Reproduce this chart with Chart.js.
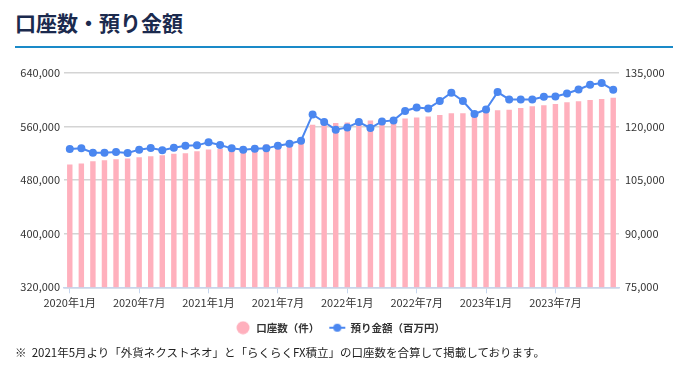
<!DOCTYPE html>
<html lang="ja">
<head>
<meta charset="utf-8">
<script src="https://cdn.jsdelivr.net/npm/chart.js@4/dist/chart.umd.min.js"></script>
<style>
  html, body { margin: 0; padding: 0; background: #fff; }
  body { width: 680px; height: 367px; position: relative; overflow: hidden;
         font-family: 'Noto Sans CJK JP', 'Noto Sans', sans-serif; }
  #title { position: absolute; left: 15px; top: 7px; font-size: 21px; font-weight: bold;
           color: #1b2a4e; letter-spacing: 0px; line-height: 30px; }
  #rule { position: absolute; left: 15px; top: 46px; width: 658px; height: 2px; background: #1a8ac8; }
  #wrap { position: absolute; left: 0; top: 55px; width: 680px; height: 290px; }
  #note { position: absolute; left: 15px; top: 343px; font-size: 11.5px; color: #222; line-height: 18px; white-space: nowrap; }
</style>
</head>
<body>
<div id="title">口座数・預り金額</div>
<div id="rule"></div>
<div id="wrap"><canvas id="c"></canvas></div>
<div id="note">※&nbsp;&nbsp;2021年5月より「外貨ネクストネオ」と「らくらくFX積立」の口座数を合算して掲載しております。</div>
<script>
const categories = [
  "2020年1月","2020年2月","2020年3月","2020年4月","2020年5月","2020年6月",
  "2020年7月","2020年8月","2020年9月","2020年10月","2020年11月","2020年12月",
  "2021年1月","2021年2月","2021年3月","2021年4月","2021年5月","2021年6月",
  "2021年7月","2021年8月","2021年9月","2021年10月","2021年11月","2021年12月",
  "2022年1月","2022年2月","2022年3月","2022年4月","2022年5月","2022年6月",
  "2022年7月","2022年8月","2022年9月","2022年10月","2022年11月","2022年12月",
  "2023年1月","2023年2月","2023年3月","2023年4月","2023年5月","2023年6月",
  "2023年7月","2023年8月","2023年9月","2023年10月","2023年11月","2023年12月"
];
const accounts = [
  503300, 504800, 508300, 509800, 511200, 512300,
  514200, 515700, 517200, 519300, 520200, 523200,
  525700, 526700, 525700, 529700, 531700, 533200,
  535700, 538100, 538100, 562700, 564900, 565200,
  566000, 566700, 568900, 569000, 569700, 571900,
  573400, 574900, 577400, 579800, 579800, 578900,
  582800, 584300, 585300, 587900, 590200, 591700,
  593800, 596200, 597700, 599800, 601300, 603200
];
const deposits = [
  113740, 113900, 112700, 112700, 112900, 112600,
  113540, 114000, 113350, 114050, 114660, 114740,
  115580, 114860, 113900, 113540, 113820, 113900,
  114660, 115220, 116060, 123400, 121280, 119130,
  119770, 121280, 119600, 121450, 121730, 124380,
  125360, 125080, 127150, 129460, 127150, 123510,
  124800, 129660, 127590, 127590, 127590, 128350,
  128430, 129270, 130390, 131700, 132170, 130300
];
const seriesNames = ["口座数（件）", "預り金額（百万円）"];
const leftTicks = [320000, 400000, 480000, 560000, 640000];
const rightTicks = [75000, 90000, 105000, 120000, 135000];

const PINK = '#ffb0bd';
const BLUE = '#4b87f0';
const FONT = "'Noto Sans CJK JP', 'Noto Sans', sans-serif";

function makeIcon(kind) {
  const cv = document.createElement('canvas');
  cv.width = 18; cv.height = 14;
  const g = cv.getContext('2d');
  if (kind === 'circle') {
    g.fillStyle = PINK;
    g.beginPath(); g.arc(9, 7, 6.5, 0, Math.PI * 2); g.fill();
  } else {
    g.strokeStyle = BLUE; g.lineWidth = 2;
    g.beginPath(); g.moveTo(1, 7); g.lineTo(17, 7); g.stroke();
    g.fillStyle = BLUE;
    g.beginPath(); g.arc(9, 7, 4, 0, Math.PI * 2); g.fill();
  }
  return cv;
}
const icons = [makeIcon('circle'), makeIcon('line')];
const fmt = v => v.toLocaleString('en-US');

new Chart(document.getElementById('c'), {
  data: {
    labels: categories,
    datasets: [
      {
        type: 'bar', label: seriesNames[0], data: accounts, yAxisID: 'y',
        backgroundColor: PINK, borderWidth: 0,
        barPercentage: 0.47, categoryPercentage: 1.0, order: 2
      },
      {
        type: 'line', label: seriesNames[1], data: deposits, yAxisID: 'y1',
        borderColor: BLUE, backgroundColor: BLUE, borderWidth: 2,
        pointRadius: 4, pointBackgroundColor: BLUE, pointBorderWidth: 0,
        tension: 0, order: 1
      }
    ]
  },
  options: {
    responsive: true, maintainAspectRatio: false, animation: false,
    layout: { padding: { top: 18, bottom: 2, left: 0, right: 0 } },
    plugins: {
      tooltip: { enabled: false },
      legend: {
        position: 'bottom',
        labels: {
          usePointStyle: true, pointStyleWidth: 16, padding: 10,
          color: '#333', font: { family: FONT, size: 10.5, weight: 'bold' },
          generateLabels: chart => chart.data.datasets.map((ds, i) => ({
            text: ds.label, fillStyle: ds.backgroundColor, strokeStyle: ds.backgroundColor,
            lineWidth: 0, hidden: false, datasetIndex: i, pointStyle: icons[i], fontColor: '#333'
          }))
        }
      }
    },
    scales: {
      x: {
        offset: true,
        grid: { offset: false, drawOnChartArea: false, drawTicks: true, tickLength: 6, color: '#c6d6ee' },
        border: { display: true, color: '#c6d6ee', width: 1.5 },
        ticks: {
          autoSkip: false, maxRotation: 0, minRotation: 0, padding: 3,
          color: '#333', font: { family: FONT, size: 11 },
          callback: function(v, i) {
            const m = categories[i].match(/年(\d+)月/)[1];
            return (m === '1' || m === '7') ? categories[i] : null;
          }
        }
      },
      y: {
        position: 'left', min: leftTicks[0], max: leftTicks[leftTicks.length - 1],
        afterBuildTicks: s => { s.ticks = leftTicks.map(v => ({ value: v })); },
        afterFit: s => { s.width = 64; },
        grid: { color: '#d4d4d4', lineWidth: 1.5, drawTicks: false },
        border: { display: false },
        ticks: { padding: 4, color: '#333', font: { family: FONT, size: 11 }, callback: v => fmt(v) }
      },
      y1: {
        position: 'right', min: rightTicks[0], max: rightTicks[rightTicks.length - 1],
        afterBuildTicks: s => { s.ticks = rightTicks.map(v => ({ value: v })); },
        afterFit: s => { s.width = 61; },
        grid: { display: false, drawTicks: false },
        border: { display: false },
        ticks: { padding: 6, color: '#333', font: { family: FONT, size: 11 }, callback: v => fmt(v) }
      }
    }
  }
});
</script>
</body>
</html>
